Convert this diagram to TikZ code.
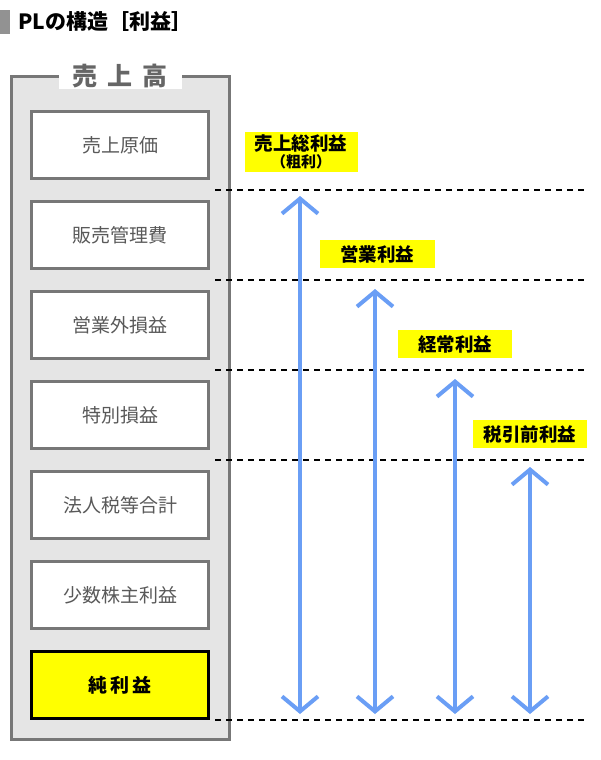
\documentclass[tikz,border=0pt]{standalone}
\usepackage{fontspec}
\setmainfont{Noto Sans CJK JP}
\usetikzlibrary{arrows.meta}
\definecolor{frame}{HTML}{777777}
\definecolor{bluearr}{HTML}{6A9EF5}
\definecolor{ylw}{HTML}{FFFF00}
\tikzset{
 item/.style={draw=frame,line width=3pt,fill=white,minimum width=177pt,minimum height=67pt,font=\fontsize{19}{22}\selectfont,text=black!65},
 lbl/.style={fill=ylw,font=\bfseries\fontsize{18.5}{21}\selectfont,inner sep=2pt,align=center,minimum height=28pt},
 dline/.style={dashed,line width=1.2pt,dash pattern=on 6pt off 5pt},
 arr/.style={bluearr,line width=4pt,{Straight Barb[length=15pt,width=36pt,line width=4pt]}-{Straight Barb[length=15pt,width=36pt,line width=4pt]}}
}
\begin{document}
\begin{tikzpicture}[x=1pt,y=-1pt]
\useasboundingbox (0,0) rectangle (600,760);
\fill[frame!80] (0,10) rectangle (10,34);
\node[anchor=west,font=\bfseries\fontsize{21}{23}\selectfont] (title) at (15,22) {PLの構造［利益］};
\draw[frame,line width=3pt,fill=black!10] (11,76) rectangle (229,739);
\node[fill=white,inner xsep=14pt,inner ysep=1pt,text=black!60,font=\bfseries\fontsize{25}{27}\selectfont] (uri) at (120,76) {売\hspace{10pt}上\hspace{10pt}高};
\node[item] (a) at (120,145) {売上原価};
\node[item] (b) at (120,235) {販売管理費};
\node[item] (c) at (120,325) {営業外損益};
\node[item] (d) at (120,415) {特別損益};
\node[item] (e) at (120,505) {法人税等合計};
\node[item] (f) at (120,595) {少数株主利益};
\node[item,draw=black,fill=ylw,text=black,font=\bfseries\fontsize{19}{22}\selectfont] (g) at (120,685) {純\,利\,益};
\foreach \y/\n in {190/l1,280/l2,370/l3,460/l4,720/l5}{
 \coordinate (\n s) at (215,\y); \coordinate (\n e) at (585,\y);
 \draw[dline] (\n s) -- (\n e);}
\coordinate (p1) at (300,196); \coordinate (q1) at (300,714);
\coordinate (p2) at (375,289); \coordinate (q2) at (375,714);
\coordinate (p3) at (455,379); \coordinate (q3) at (455,714);
\coordinate (p4) at (530,467); \coordinate (q4) at (530,714);
\foreach \i in {1,2,3,4}{\draw[arr] (p\i) -- (q\i);}
\node[lbl,minimum width=113pt,inner ysep=3pt] (s1) at (301,152) {売上総利益\\[-4pt]{\fontsize{15}{17}\selectfont（粗利）}};
\node[lbl,minimum width=115pt] (s2) at (377,254) {営業利益};
\node[lbl,minimum width=114pt] (s3) at (455,344) {経常利益};
\node[lbl,minimum width=114pt] (s4) at (530,434) {税引前利益};
\end{tikzpicture}
\end{document}
